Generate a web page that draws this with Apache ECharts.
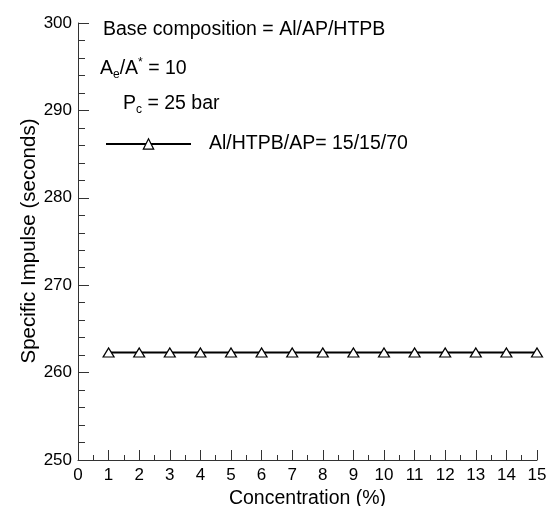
<!DOCTYPE html>
<html>
<head>
<meta charset="utf-8">
<script src="https://cdn.jsdelivr.net/npm/echarts@6/dist/echarts.min.js"></script>
<style>
  html, body { margin: 0; padding: 0; background: #fff; }
  #chart { width: 556px; height: 506px; }
</style>
</head>
<body>
<div id="chart"></div>
<script>
// data
var concentration = [1, 2, 3, 4, 5, 6, 7, 8, 9, 10, 11, 12, 13, 14, 15];
var impulse = [262.3, 262.3, 262.3, 262.3, 262.3, 262.3, 262.3, 262.3, 262.3, 262.3, 262.3, 262.3, 262.3, 262.3, 262.3];
var seriesName = 'Al/HTPB/AP= 15/15/70';
var xTicks = [0, 1, 2, 3, 4, 5, 6, 7, 8, 9, 10, 11, 12, 13, 14, 15];
var yTicks = [250, 260, 270, 280, 290, 300];

var font = 'Liberation Sans, Arial, sans-serif';
var axisColor = '#333';

var points = concentration.map(function (c, i) { return [c, impulse[i]]; });

var chart = echarts.init(document.getElementById('chart'));
var option = {
  animation: false,
  grid: { left: 78, right: 19, top: 23, bottom: 46, outerBoundsMode: 'none', containLabel: false },
  xAxis: {
    type: 'value',
    min: xTicks[0], max: xTicks[xTicks.length - 1], interval: 1,
    name: 'Concentration (%)',
    nameLocation: 'middle',
    nameGap: 26,
    nameTextStyle: { fontFamily: font, fontSize: 19.5, color: '#000' },
    axisLine: { lineStyle: { color: axisColor, width: 1 } },
    axisTick: { inside: true, length: 10, lineStyle: { color: axisColor } },
    minorTick: { show: true, splitNumber: 2, length: 5, lineStyle: { color: axisColor } },
    splitLine: { show: false },
    axisLabel: { fontFamily: font, fontSize: 17, color: '#000', margin: 7 }
  },
  yAxis: {
    type: 'value',
    min: yTicks[0], max: yTicks[yTicks.length - 1], interval: 10,
    axisLine: { show: true, lineStyle: { color: axisColor, width: 1 } },
    axisTick: { show: true, inside: true, length: 11, lineStyle: { color: axisColor } },
    minorTick: { show: true, splitNumber: 5, length: 7, lineStyle: { color: axisColor } },
    splitLine: { show: false },
    axisLabel: { fontFamily: font, fontSize: 17, color: '#000', margin: 6 }
  },
  legend: {
    left: 105, top: 134,
    padding: 0,
    itemWidth: 85, itemHeight: 13,
    itemStyle: { borderWidth: 1.2 },
    textStyle: { fontFamily: font, fontSize: 19.5, color: '#000', padding: [0, 0, 0, 13] },
    data: [seriesName]
  },
  graphic: [
    {
      type: 'text', left: 103, top: 20,
      style: { text: 'Base composition = Al/AP/HTPB', font: '19.5px ' + font, fill: '#000' }
    },
    {
      type: 'text', left: 100, top: 57,
      style: {
        text: 'A{sub|e}/A{sup|*} = 10',
        font: '19.5px ' + font, fill: '#000',
        rich: {
          sub: { fontSize: 12, fontFamily: font, verticalAlign: 'bottom', padding: [12, 0, 0, 0] },
          sup: { fontSize: 12, fontFamily: font, verticalAlign: 'top', padding: [0, 0, 9, 0] }
        }
      }
    },
    {
      type: 'text', left: 123, top: 94,
      style: {
        text: 'P{sub|c} = 25 bar',
        font: '19.5px ' + font, fill: '#000',
        rich: {
          sub: { fontSize: 12, fontFamily: font, verticalAlign: 'bottom', padding: [12, 0, 0, 0] }
        }
      }
    },
    {
      type: 'text', x: 29, y: 241, rotation: Math.PI / 2,
      style: {
        text: 'Specific Impulse (seconds)', font: '20.5px ' + font, fill: '#000',
        align: 'center', verticalAlign: 'middle'
      }
    }
  ],
  series: [
    {
      name: seriesName,
      type: 'line',
      data: points,
      symbol: 'triangle',
      symbolSize: [11, 9],
      showAllSymbol: true,
      lineStyle: { color: '#000', width: 2 },
      itemStyle: { color: '#fff', borderColor: '#000', borderWidth: 1.2 }
    }
  ]
};
chart.setOption(option);
</script>
</body>
</html>
